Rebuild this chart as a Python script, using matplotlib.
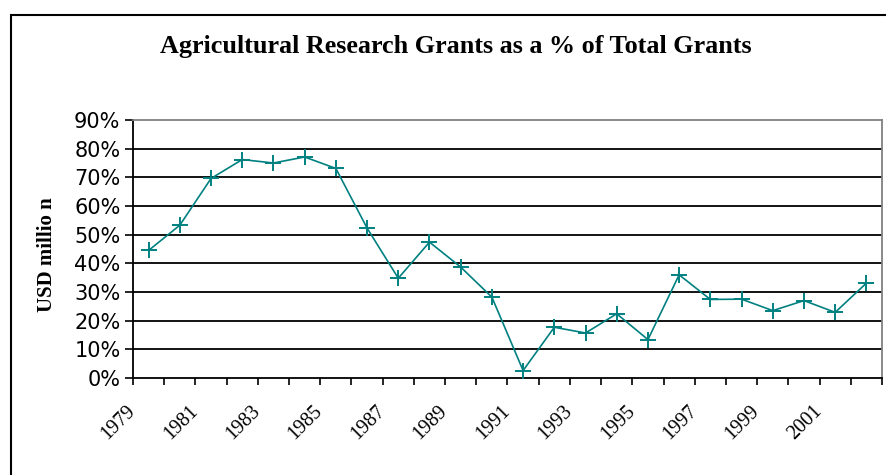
import matplotlib
matplotlib.use("Agg")
import matplotlib.pyplot as plt
from matplotlib.patches import Rectangle
from matplotlib.ticker import FixedLocator, PercentFormatter
from matplotlib.transforms import ScaledTranslation

# share of agricultural research grants, one value per year
years = list(range(1979, 2003))
share = [44.5, 53.3, 69.6, 76.2, 75.0, 77.1, 73.1, 52.3, 34.8, 47.4, 38.7, 28.2,
         2.6, 17.7, 15.7, 22.4, 13.4, 36.0, 27.4, 27.5, 23.5, 27.0, 22.9, 33.1]
tick_years = [str(y) for y in years[::2]]
y_ticks = [0, 10, 20, 30, 40, 50, 60, 70, 80, 90]

TEAL = "#008080"
W, H = 887, 475

fig = plt.figure(figsize=(W / 100, H / 100), dpi=100)
ax = fig.add_axes([133 / W, 1 - 378 / H, (882 - 133) / W, (378 - 120) / H])

# outer chart frame (cut off at the right and bottom in the original)
fig.patches.append(Rectangle((11 / W, -0.2), 2, 1.2 - 15 / H, transform=fig.transFigure,
                             fill=False, edgecolor="black", linewidth=1.5))

n = len(years)
x = [i + 0.5 for i in range(n)]
ax.plot(x, share, color=TEAL, linewidth=1.2, marker="+", markersize=11,
        markeredgewidth=1.4, zorder=3)

ax.set_xlim(0, n)
ax.set_ylim(0, 90)

for v in y_ticks[1:-1]:
    ax.axhline(v, color="black", linewidth=1.3, zorder=1)

ax.set_yticks(y_ticks)
ax.yaxis.set_major_formatter(PercentFormatter(decimals=0))
ax.tick_params(axis="y", direction="out", length=6, width=1.2, pad=3,
               labelsize=15, colors="black")

ax.xaxis.set_major_locator(FixedLocator(range(n + 1)))
ax.set_xticklabels([])
ax.xaxis.set_minor_locator(FixedLocator(x[::2]))
ax.set_xticklabels(tick_years, minor=True, rotation=45, ha="right",
                   rotation_mode="anchor", fontfamily="Liberation Serif",
                   fontsize=14.5)
ax.tick_params(axis="x", which="major", direction="out", length=5, width=1.2)
ax.tick_params(axis="x", which="minor", length=0, pad=0)
shift = ScaledTranslation(-16 / 100, -30 / 100, fig.dpi_scale_trans)
for lbl in ax.get_xticklabels(minor=True):
    lbl.set_va("center")
    lbl.set_transform(lbl.get_transform() + shift)

ax.spines["left"].set_color("black")
ax.spines["bottom"].set_color("black")
ax.spines["left"].set_linewidth(1.3)
ax.spines["bottom"].set_linewidth(1.3)
ax.spines["top"].set_color("#808080")
ax.spines["right"].set_color("#808080")
ax.spines["top"].set_linewidth(1.3)
ax.spines["right"].set_linewidth(1.3)

fig.text(456 / W, 1 - 47 / H, "Agricultural Research Grants as a % of Total Grants",
         ha="center", va="center", fontfamily="Liberation Serif",
         fontweight="bold", fontsize=18.8)
fig.text(47 / W, 1 - 255 / H, "USD millio n", rotation=90, ha="center", va="center",
         fontfamily="Liberation Serif", fontweight="bold", fontsize=15)

fig.savefig("out.png", dpi=100)
